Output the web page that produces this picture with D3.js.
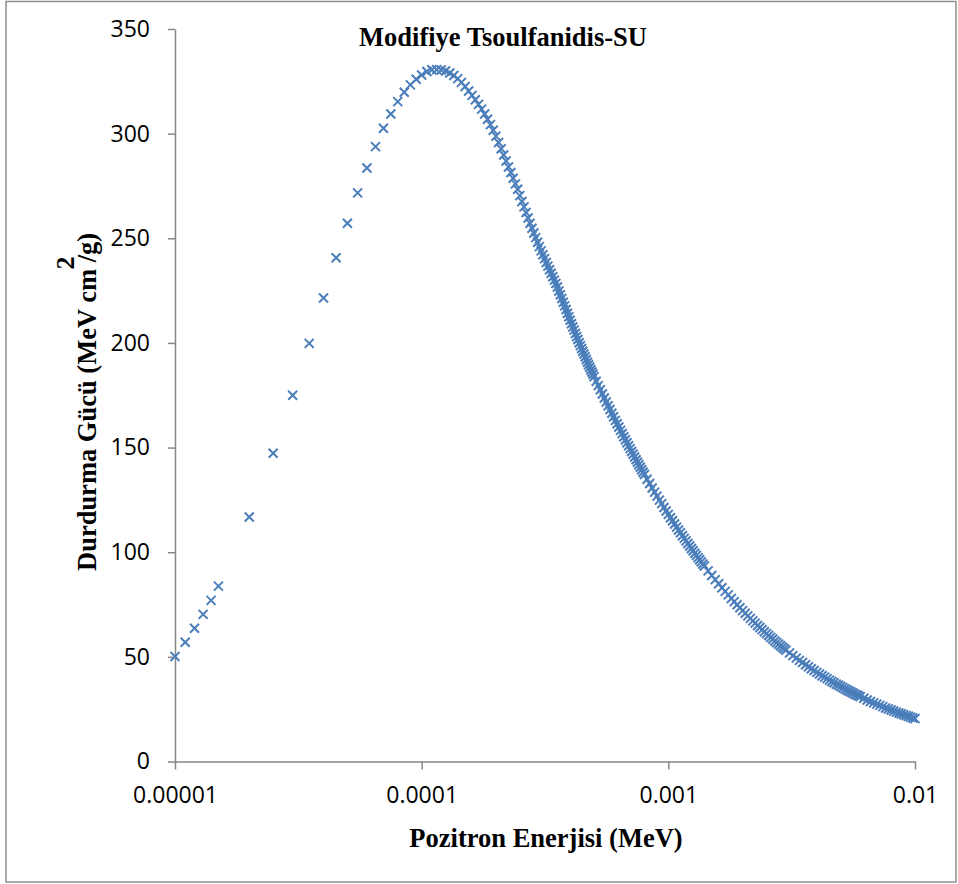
<!DOCTYPE html>
<html>
<head>
<meta charset="utf-8">
<script src="https://cdn.jsdelivr.net/npm/d3@7"></script>
<style>
  html, body { margin: 0; padding: 0; background: #fff; }
  svg { display: block; }
</style>
</head>
<body>
<div id="chart"></div>
<script>
// Pozitron enerjisi (MeV) ve durdurma gücü (MeV cm2/g)
const risingEnergy = [1e-5, 1.1e-5, 1.2e-5, 1.3e-5, 1.4e-5, 1.5e-5, 2e-5, 2.5e-5, 3e-5, 3.5e-5, 4e-5, 4.5e-5,
  5e-5, 5.5e-5, 6e-5, 6.5e-5, 7e-5, 7.5e-5, 8e-5, 8.5e-5, 9e-5, 9.5e-5, 1e-4];
const risingPower = [50.2, 57.0, 63.7, 70.3, 77.0, 83.8, 116.8, 147.3, 175.0, 199.8, 221.5, 240.7,
  257.2, 271.7, 283.6, 293.8, 302.6, 309.4, 315.3, 319.8, 323.3, 326.0, 328.0];

const peakEnergy = [1.05e-4, 1.1e-4, 1.15e-4, 1.2e-4, 1.25e-4, 1.3e-4, 1.35e-4, 1.4e-4, 1.45e-4, 1.5e-4,
  1.55e-4, 1.6e-4, 1.65e-4, 1.7e-4, 1.75e-4, 1.8e-4, 1.85e-4, 1.9e-4, 1.95e-4, 2e-4,
  2.05e-4, 2.1e-4, 2.15e-4, 2.2e-4, 2.25e-4, 2.3e-4, 2.35e-4, 2.4e-4, 2.45e-4, 2.5e-4,
  2.55e-4, 2.6e-4, 2.65e-4, 2.7e-4, 2.75e-4, 2.8e-4, 2.85e-4, 2.9e-4, 2.95e-4, 3e-4,
  3.05e-4, 3.1e-4, 3.15e-4, 3.2e-4, 3.25e-4, 3.3e-4, 3.35e-4, 3.4e-4, 3.45e-4, 3.5e-4,
  3.55e-4, 3.6e-4, 3.65e-4, 3.7e-4, 3.75e-4, 3.8e-4, 3.85e-4, 3.9e-4, 3.95e-4, 4e-4,
  4.05e-4, 4.1e-4, 4.15e-4, 4.2e-4, 4.25e-4, 4.3e-4, 4.35e-4, 4.4e-4, 4.45e-4, 4.5e-4,
  4.55e-4, 4.6e-4, 4.65e-4, 4.7e-4, 4.75e-4, 4.8e-4, 4.85e-4, 4.9e-4, 4.95e-4, 5e-4];
const peakPower = [329.7, 330.5, 330.6, 330.4, 329.9, 329.0, 327.8, 326.3, 324.5, 322.5,
  320.4, 318.3, 316.2, 314.0, 311.7, 309.4, 306.9, 304.3, 301.6, 298.8,
  295.8, 292.8, 289.8, 286.9, 284.1, 281.4, 278.7, 276.0, 273.4, 270.4,
  267.6, 265.0, 262.3, 259.7, 257.2, 254.8, 252.5, 250.3, 248.1, 246.0,
  244.0, 242.1, 240.3, 238.4, 236.7, 235.0, 233.3, 231.6, 230.0, 228.4,
  226.7, 224.8, 223.0, 221.2, 219.4, 217.7, 216.0, 214.2, 212.5, 210.8,
  209.2, 207.6, 206.1, 204.5, 203.0, 201.6, 200.1, 198.7, 197.3, 196.0,
  194.7, 193.4, 192.1, 190.8, 189.6, 188.4, 187.2, 186.1, 185.0, 183.9];

const fallEnergy = [5.1e-4, 5.2e-4, 5.3e-4, 5.4e-4, 5.5e-4, 5.6e-4, 5.7e-4, 5.8e-4, 5.9e-4, 6e-4,
  6.1e-4, 6.2e-4, 6.3e-4, 6.4e-4, 6.5e-4, 6.6e-4, 6.7e-4, 6.8e-4, 6.9e-4, 7e-4,
  7.1e-4, 7.2e-4, 7.3e-4, 7.4e-4, 7.5e-4, 7.6e-4, 7.7e-4, 7.8e-4, 7.9e-4, 8e-4,
  8.2e-4, 8.4e-4, 8.6e-4, 8.8e-4, 9e-4, 9.2e-4, 9.4e-4, 9.6e-4, 9.8e-4, 1e-3,
  1.02e-3, 1.04e-3, 1.06e-3, 1.08e-3, 1.1e-3, 1.12e-3, 1.14e-3, 1.16e-3, 1.18e-3, 1.2e-3,
  1.22e-3, 1.24e-3, 1.26e-3, 1.28e-3, 1.3e-3, 1.32e-3, 1.34e-3, 1.36e-3, 1.38e-3, 1.4e-3];
const fallPower = [181.7, 179.6, 177.6, 175.6, 173.7, 171.8, 170.0, 168.2, 166.4, 164.7,
  163.0, 161.4, 159.8, 158.2, 156.7, 155.2, 153.7, 152.3, 150.9, 149.5,
  148.1, 146.8, 145.5, 144.2, 143.0, 141.8, 140.6, 139.4, 138.2, 137.1,
  134.9, 132.8, 130.7, 128.7, 126.8, 124.9, 123.2, 121.4, 119.7, 118.1,
  116.5, 115.0, 113.5, 112.0, 110.6, 109.3, 107.9, 106.6, 105.4, 104.2,
  103.0, 101.8, 100.7, 99.5, 98.5, 97.4, 96.4, 95.4, 94.4, 93.4];

const tailEnergy = [1.45e-3, 1.5e-3, 1.55e-3, 1.6e-3, 1.65e-3, 1.7e-3, 1.75e-3, 1.8e-3, 1.85e-3, 1.9e-3,
  1.95e-3, 2e-3, 2.05e-3, 2.1e-3, 2.15e-3, 2.2e-3, 2.25e-3, 2.3e-3, 2.35e-3, 2.4e-3,
  2.45e-3, 2.5e-3, 2.55e-3, 2.6e-3, 2.65e-3, 2.7e-3, 2.75e-3, 2.8e-3, 2.85e-3, 2.9e-3,
  2.95e-3, 3e-3,
  3.1e-3, 3.2e-3, 3.3e-3, 3.4e-3, 3.5e-3, 3.6e-3, 3.7e-3, 3.8e-3, 3.9e-3, 4e-3,
  4.1e-3, 4.2e-3, 4.3e-3, 4.4e-3, 4.5e-3, 4.6e-3, 4.7e-3, 4.8e-3, 4.9e-3, 5e-3,
  5.1e-3, 5.2e-3, 5.3e-3, 5.4e-3, 5.5e-3, 5.6e-3, 5.7e-3, 5.8e-3, 5.9e-3, 6e-3,
  6.2e-3, 6.4e-3, 6.6e-3, 6.8e-3, 7e-3, 7.2e-3, 7.4e-3, 7.6e-3, 7.8e-3, 8e-3,
  8.2e-3, 8.4e-3, 8.6e-3, 8.8e-3, 9e-3, 9.2e-3, 9.4e-3, 9.6e-3, 9.8e-3, 1e-2];
const tailPower = [91.1, 88.9, 86.9, 84.9, 83.0, 81.3, 79.6, 77.9, 76.4, 74.9,
  73.5, 72.1, 70.8, 69.6, 68.4, 67.2, 66.1, 65.0, 64.0, 63.0,
  62.0, 61.1, 60.2, 59.3, 58.5, 57.6, 56.8, 56.1, 55.3, 54.6,
  53.9, 53.2,
  51.9, 50.6, 49.4, 48.3, 47.3, 46.2, 45.3, 44.3, 43.5, 42.6,
  41.8, 41.0, 40.3, 39.6, 38.9, 38.2, 37.6, 36.9, 36.4, 35.8,
  35.2, 34.7, 34.2, 33.7, 33.2, 32.7, 32.2, 31.8, 31.4, 31.0,
  30.2, 29.4, 28.7, 28.0, 27.4, 26.8, 26.2, 25.6, 25.1, 24.6,
  24.1, 23.6, 23.2, 22.8, 22.3, 21.9, 21.6, 21.2, 20.8, 20.5];

const xTicks = [1e-5, 1e-4, 1e-3, 1e-2];
const xTickLabels = ['0.00001', '0.0001', '0.001', '0.01'];
const yTicks = [0, 50, 100, 150, 200, 250, 300, 350];

const energy = risingEnergy.concat(peakEnergy, fallEnergy, tailEnergy);
const power = risingPower.concat(peakPower, fallPower, tailPower);
const dataset = energy.map((e, i) => ({ e: e, s: power[i] }));

const width = 958, height = 884;
const serif = '"Liberation Serif", "Times New Roman", serif';
const sans = '"Open Sans", "Noto Sans", sans-serif';
const axisColor = '#868686';
const markColor = '#4a7ebb';

const svg = d3.select('#chart')
  .append('svg')
  .attr('width', width)
  .attr('height', height);

// outer chart frame
svg.append('rect')
  .attr('x', 6).attr('y', 1.5)
  .attr('width', 950).attr('height', 880.5)
  .attr('fill', '#fff')
  .attr('stroke', '#8e8e8e')
  .attr('stroke-width', 1.5);

const xScale = d3.scaleLog()
  .domain([1e-5, 1e-2])
  .range([175, 915]);

const yScale = d3.scaleLinear()
  .domain([0, 350])
  .range([761.5, 29]);

const xAxis = d3.axisBottom(xScale)
  .tickValues(xTicks)
  .tickFormat((d, i) => xTickLabels[i])
  .tickSize(8)
  .tickPadding(17)
  .tickSizeOuter(0);

const yAxis = d3.axisLeft(yScale)
  .tickValues(yTicks)
  .tickFormat(d3.format('d'))
  .tickSize(7)
  .tickPadding(18)
  .tickSizeOuter(0);

const gx = svg.append('g')
  .attr('transform', 'translate(0,761.5)')
  .call(xAxis);

const gy = svg.append('g')
  .attr('transform', 'translate(175,0)')
  .call(yAxis);

[gx, gy].forEach(g => {
  g.select('.domain').attr('stroke', axisColor).attr('stroke-width', 1.5);
  g.selectAll('.tick line').attr('stroke', axisColor).attr('stroke-width', 1.5);
  g.selectAll('.tick text')
    .attr('fill', '#000')
    .style('font-family', sans)
    .style('font-size', '23px');
});

// scatter markers (x shape)
const crossShape = {
  draw(context, size) {
    const r = Math.sqrt(size) / 2;
    context.moveTo(-r, -r);
    context.lineTo(r, r);
    context.moveTo(-r, r);
    context.lineTo(r, -r);
  }
};

svg.append('g')
  .selectAll('path')
  .data(dataset)
  .enter()
  .append('path')
  .attr('transform', d => `translate(${xScale(d.e)},${yScale(d.s)})`)
  .attr('d', d3.symbol(crossShape, 81))
  .attr('fill', 'none')
  .attr('stroke', markColor)
  .attr('stroke-width', 2);

// titles
svg.append('text')
  .attr('x', 503).attr('y', 46)
  .attr('text-anchor', 'middle')
  .style('font-family', serif)
  .style('font-weight', 'bold')
  .style('font-size', '26.5px')
  .text('Modifiye Tsoulfanidis-SU');

svg.append('text')
  .attr('x', 546).attr('y', 847)
  .attr('text-anchor', 'middle')
  .style('font-family', serif)
  .style('font-weight', 'bold')
  .style('font-size', '26.5px')
  .text('Pozitron Enerjisi (MeV)');

svg.append('text')
  .attr('transform', 'rotate(-90)')
  .attr('x', -571).attr('y', 96)
  .attr('text-anchor', 'start')
  .style('font-family', serif)
  .style('font-weight', 'bold')
  .style('font-size', '26.5px')
  .text('Durdurma Gücü (MeV cm /g)');

svg.append('text')
  .attr('transform', 'rotate(-90)')
  .attr('x', -263).attr('y', 74)
  .attr('text-anchor', 'middle')
  .style('font-family', serif)
  .style('font-weight', 'bold')
  .style('font-size', '26px')
  .text('2');
</script>
</body>
</html>
